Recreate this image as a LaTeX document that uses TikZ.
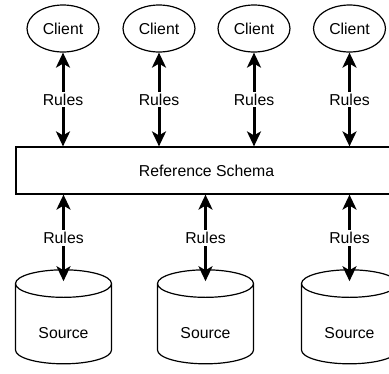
\documentclass[tikz,border=0pt]{standalone}
\usepackage{fontspec}
\setmainfont{Liberation Sans}
\usetikzlibrary{arrows.meta,shapes.geometric}

\tikzset{
  client/.style={draw, ellipse, line width=1.2pt, minimum width=72pt, minimum height=47pt, inner sep=0pt},
  schema/.style={draw, rectangle, line width=1.2pt, minimum width=381pt, minimum height=47pt, inner sep=0pt},
  source/.style={draw, cylinder, shape border rotate=90, aspect=0.55, line width=1.2pt, minimum width=96pt, minimum height=94pt, inner sep=0pt, text height=28pt, text depth=0pt},
  link/.style={{Stealth[length=15pt,width=14pt,inset=4pt]}-{Stealth[length=15pt,width=14pt,inset=4pt]}, line width=3pt},
  rulelbl/.style={fill=white, inner sep=2pt}
}

\begin{document}
\begin{tikzpicture}[x=1pt, y=-1pt, font=\fontsize{15.8}{18}\selectfont]
	\useasboundingbox (0,0) rectangle (389,373);
	% clients
	\node[client] (c1) at (63,28.5) {Client};
	\node[client] (c2) at (159,28.5) {Client};
	\node[client] (c3) at (254,28.5) {Client};
	\node[client] (c4) at (349.5,28.5) {Client};
	% schema
	\node[schema] (rs) at (206.5,170.5) {Reference Schema};
	% sources
	\node[source] (s1) at (63.5,324) {Source};
	\node[source] (s2) at (205.5,324) {Source};
	\node[source] (s3) at (349.5,324) {Source};
	% rules, top
	\foreach \c in {c1,c2,c3,c4}
		\draw[link] (\c) -- node[rulelbl] {Rules} (\c |- rs.north);
	% rules, bottom
	\foreach \s in {s1,s2,s3}
		\draw[link] (\s |- rs.south) -- node[rulelbl] {Rules} ([yshift=-12pt]\s.top);
\end{tikzpicture}
\end{document}
